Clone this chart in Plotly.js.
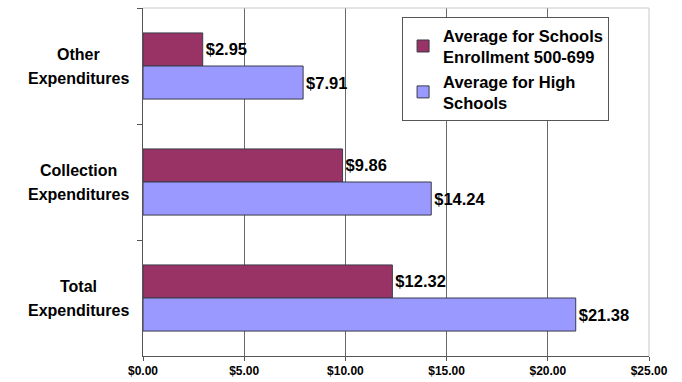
<!DOCTYPE html>
<html>
<head>
<meta charset="utf-8">
<script src="https://cdn.plot.ly/plotly-3.0.1.min.js"></script>
<style>
  html, body { margin: 0; padding: 0; background: #fff; }
  #chart { width: 682px; height: 382px; }
</style>
</head>
<body>
<div id="chart"></div>
<script>
// Per-student library expenditures, by category
const categories = ['Other Expenditures', 'Collection Expenditures', 'Total Expenditures'];
const enrollment500to699 = [2.95, 9.86, 12.32];
const highSchoolAverage = [7.91, 14.24, 21.38];
const seriesNames = ['Average for Schools<br>Enrollment 500-699', 'Average for High<br>Schools'];
const xTicks = [0, 5, 10, 15, 20, 25];

const boldFont = 'Liberation Sans, Arial, sans-serif';

function barTrace(values, name, color) {
  return {
    type: 'bar',
    orientation: 'h',
    y: categories,
    x: values,
    name: '<b>' + name.split('<br>').join('</b><br><b>') + '</b>',
    marker: { color: color, line: { color: '#3a3a4a', width: 1 } },
    texttemplate: '<b>$%{x:.2f}</b>',
    textposition: 'outside',
    cliponaxis: false,
    textfont: { family: boldFont, size: 16.5, color: '#000' },
    hoverinfo: 'skip'
  };
}

const traces = [
  barTrace(enrollment500to699, seriesNames[0], '#993366'),
  barTrace(highSchoolAverage, seriesNames[1], '#9999ff')
];

// Category labels drawn centred on two lines beside the axis
const annotations = [];
categories.forEach(function (cat) {
  const words = cat.split(' ');
  [words[0], words.slice(1).join(' ')].forEach(function (line, i) {
    annotations.push({
      xref: 'paper', yref: 'y', x: -0.128, y: cat,
      text: '<b>' + line + '</b>', showarrow: false,
      xanchor: 'center', yanchor: 'middle',
      yshift: i === 0 ? 12 : -12,
      font: { family: boldFont, size: 16, color: '#000' }
    });
  });
});

const layout = {
  width: 682, height: 382,
  margin: { l: 143, r: 33, t: 8, b: 26 },
  paper_bgcolor: '#fff', plot_bgcolor: '#fff',
  barmode: 'group',
  bargap: 0.43,
  bargroupgap: 0,
  showlegend: true,
  legend: {
    x: 0.512, y: 0.974, xanchor: 'left', yanchor: 'top',
    bgcolor: '#fff', bordercolor: '#555', borderwidth: 1,
    font: { family: boldFont, size: 16.5, color: '#000' },
    itemwidth: 30,
    tracegroupgap: 0
  },
  xaxis: {
    range: [0, 25],
    tickvals: xTicks,
    ticktext: xTicks.map(function (v) { return '<b>$' + v.toFixed(2) + '</b>'; }),
    tickfont: { family: 'Liberation Sans Narrow, Arial Narrow, sans-serif', size: 12, color: '#000' },
    showgrid: true, gridcolor: '#6a6a6a', gridwidth: 1,
    showline: true, linecolor: '#555', linewidth: 1,
    ticks: 'outside', ticklen: 4, tickcolor: '#555',
    zeroline: false, fixedrange: true
  },
  yaxis: {
    type: 'category',
    autorange: 'reversed',
    tickson: 'boundaries',
    showticklabels: false,
    showgrid: false,
    showline: true, linecolor: '#555', linewidth: 1,
    ticks: 'outside', ticklen: 5, tickcolor: '#555',
    zeroline: false, fixedrange: true
  },
  shapes: [
    // light frame along the top and right edges of the plot area
    { type: 'path', xref: 'paper', yref: 'paper', path: 'M 0 1 L 1 1 L 1 0',
      line: { color: '#c8c8c8', width: 1 }, layer: 'above' }
  ],
  annotations: annotations
};

Plotly.newPlot('chart', traces, layout, { displayModeBar: false, staticPlot: true });
</script>
</body>
</html>
